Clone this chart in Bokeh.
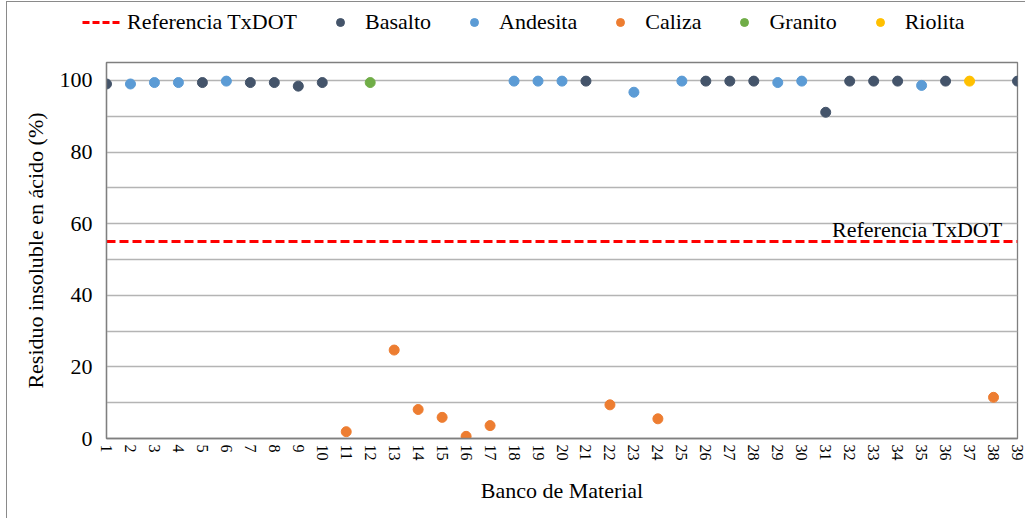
from bokeh.plotting import figure
from bokeh.layouts import column
from bokeh.models import Range1d, FixedTicker, Legend, LegendItem, Label
from bokeh.embed import file_html
from bokeh.resources import INLINE

# ---- data ----
bancos = list(range(1, 40))
basalto_x = [1, 5, 7, 8, 9, 10, 21, 26, 27, 28, 31, 32, 33, 34, 36, 39]
basalto_y = [99.0, 99.4, 99.4, 99.4, 98.4, 99.4, 99.8, 99.8, 99.8, 99.8, 91.1, 99.8, 99.8, 99.8, 99.8, 99.8]
andesita_x = [2, 3, 4, 6, 18, 19, 20, 23, 25, 29, 30, 35]
andesita_y = [99.0, 99.4, 99.4, 99.8, 99.8, 99.8, 99.8, 96.7, 99.8, 99.4, 99.8, 98.6]
caliza_x = [11, 13, 14, 15, 16, 17, 22, 24, 38]
caliza_y = [1.9, 24.7, 8.1, 5.9, 0.6, 3.6, 9.4, 5.5, 11.5]
granito_x = [12]
granito_y = [99.4]
riolita_x = [37]
riolita_y = [99.8]
referencia_txdot = 55
y_ticks = [0, 20, 40, 60, 80, 100]
y_minor_ticks = [10, 30, 50, 70, 90]
x_tick_labels = {b: str(b) for b in bancos}

FONT = "Liberation Serif"
GRID = "#b4b4b4"
FRAME = "#7f7f7f"
REF_COLOR = "#ff0000"

series = [
    ("Basalto", basalto_x, basalto_y, "#44546a"),
    ("Andesita", andesita_x, andesita_y, "#5b9bd5"),
    ("Caliza", caliza_x, caliza_y, "#ed7d31"),
    ("Granito", granito_x, granito_y, "#70ad47"),
    ("Riolita", riolita_x, riolita_y, "#ffc000"),
]

LEG_H = 58
W = 1018

# ---- main chart ----
p = figure(width=W, height=516 - LEG_H, output_backend="svg", toolbar_location=None,
           x_range=Range1d(bancos[0], bancos[-1]), y_range=Range1d(0, 105),
           min_border_left=99, min_border_right=8, min_border_top=2, min_border_bottom=80)
p.frame_align = False

p.outline_line_color = FRAME
p.outline_line_width = 1.3
p.xgrid.grid_line_color = None
p.ygrid.grid_line_color = GRID
p.ygrid.grid_line_width = 1.3
p.ygrid.minor_grid_line_color = GRID
p.ygrid.minor_grid_line_width = 1.3

p.xaxis.ticker = FixedTicker(ticks=bancos)
p.xaxis.major_label_overrides = x_tick_labels
p.xaxis.major_label_orientation = "vertical"
p.yaxis.ticker = FixedTicker(ticks=y_ticks, minor_ticks=y_minor_ticks)
for ax in (p.xaxis[0], p.yaxis[0]):
    ax.axis_line_color = FRAME
    ax.axis_line_width = 1.3
    ax.major_tick_out = 0
    ax.major_tick_in = 0
    ax.minor_tick_out = 0
    ax.minor_tick_in = 0
    ax.major_tick_line_color = None
    ax.minor_tick_line_color = None
    ax.major_label_text_font = FONT
    ax.major_label_text_color = "#000000"
    ax.axis_label_text_font = FONT
    ax.axis_label_text_font_style = "normal"
    ax.axis_label_text_font_size = "22px"
    ax.axis_label_text_color = "#000000"
p.xaxis.major_label_text_font_size = "16px"
p.yaxis.major_label_text_font_size = "22px"
p.xaxis.major_label_standoff = 6
p.yaxis.major_label_standoff = 14
p.xaxis.axis_label = "Banco de Material"
p.yaxis.axis_label = "Residuo insoluble en ácido (%)"
p.xaxis.axis_label_standoff = 14
p.yaxis.axis_label_standoff = 9

ref_x = [bancos[0], bancos[-1]]
ref_y = [referencia_txdot, referencia_txdot]
p.line(x=ref_x, y=ref_y, line_color=REF_COLOR, line_width=3, line_dash="9 4")
for name, xs, ys, col in series:
    p.scatter(x=xs, y=ys, size=10, fill_color=col, line_color=col)

lab = Label(x=bancos[-1], y=referencia_txdot, x_offset=-15, y_offset=12,
            text="Referencia TxDOT", text_align="right", text_baseline="alphabetic",
            text_font=FONT, text_font_size="22px", text_color="#000000")
p.add_layout(lab)

# ---- legend strip (hidden copies of the same series, used only for legend glyphs) ----
leg = figure(width=W, height=LEG_H, output_backend="svg", toolbar_location=None,
             x_range=Range1d(0, 1), y_range=Range1d(0, 1),
             x_axis_type=None, y_axis_type=None, min_border=0)
leg.frame_align = False
leg.outline_line_color = None
leg.grid.grid_line_color = None
ref_r = leg.line(x=ref_x, y=ref_y, line_color=REF_COLOR, line_width=3,
                 line_dash="7 3", visible=False)
items = [LegendItem(label="Referencia TxDOT", renderers=[ref_r])]
for name, xs, ys, col in series:
    r = leg.scatter(x=xs, y=ys, size=10, fill_color=col, line_color=col, visible=False)
    items.append(LegendItem(label=name, renderers=[r]))

legend = Legend(items=items, orientation="horizontal", location=(75, 25),
                label_text_font=FONT, label_text_font_size="22px", label_text_color="#000000",
                glyph_width=40, glyph_height=20, label_standoff=5, spacing=23,
                padding=0, margin=0, border_line_color=None, background_fill_alpha=0,
                inactive_fill_alpha=0, click_policy="none")
leg.add_layout(legend, "center")

layout = column(leg, p, spacing=0,
                styles={"margin-left": "6px", "margin-top": "1px",
                        "border-left": "1px solid #8a8a8a", "border-top": "1px solid #8a8a8a"})

open("out.html", "w").write(file_html(layout, INLINE))
